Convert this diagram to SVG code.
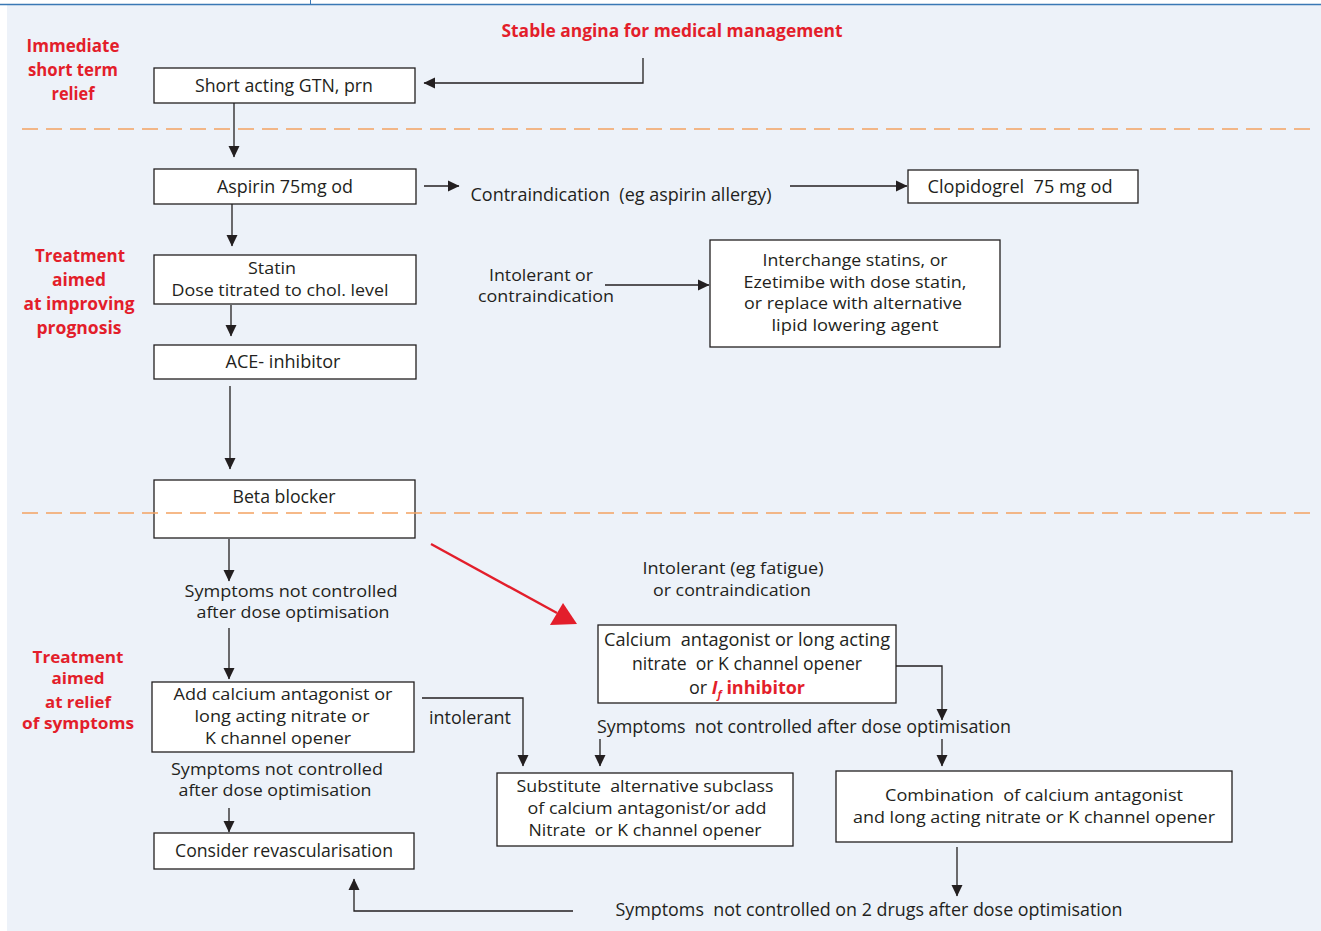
<svg xmlns="http://www.w3.org/2000/svg" width="1321" height="931" viewBox="0 0 1321 931">
<style>
.box{fill:#ffffff;stroke:#231f20;stroke-width:1.3}
.ln{fill:none;stroke:#231f20;stroke-width:1.3}
.t{font-family:"Open Sans","Noto Sans",sans-serif;font-size:18px;fill:#231f20;text-anchor:middle}
.r{font-family:"Open Sans","Noto Sans",sans-serif;font-size:18px;font-weight:bold;fill:#e31e2b;text-anchor:middle}
.s{font-size:16px}
.dash{stroke:#f4a261;stroke-width:1.6;stroke-dasharray:16 8;fill:none}
</style>
<defs>
<marker id="ah" markerUnits="userSpaceOnUse" markerWidth="12" markerHeight="12" refX="11" refY="6" orient="auto">
<path d="M0,0.5 L11.5,6 L0,11.5 Z" fill="#231f20"/>
</marker>
</defs>
<rect x="0" y="0" width="1321" height="931" fill="#ffffff"/>
<rect x="7" y="5" width="1314" height="926" fill="#edf2f9"/>
<line x1="0" y1="4.5" x2="1321" y2="4.5" stroke="#3a78b5" stroke-width="1.5"/>
<line x1="310.5" y1="0" x2="310.5" y2="4" stroke="#3a78b5" stroke-width="1"/>

<g id="dividers">
<line class="dash" x1="22" y1="129" x2="1310" y2="129"/>
</g>

<g id="section-labels">
<text class="r" x="73" y="52" textLength="93" lengthAdjust="spacingAndGlyphs">Immediate</text>
<text class="r" x="73" y="76" textLength="90" lengthAdjust="spacingAndGlyphs">short term</text>
<text class="r" x="73" y="100" textLength="43" lengthAdjust="spacingAndGlyphs">relief</text>
<text class="r" x="80" y="262" textLength="90" lengthAdjust="spacingAndGlyphs">Treatment</text>
<text class="r" x="79" y="286" textLength="54" lengthAdjust="spacingAndGlyphs">aimed</text>
<text class="r" x="79" y="310" textLength="111" lengthAdjust="spacingAndGlyphs">at improving</text>
<text class="r" x="79" y="334" textLength="85" lengthAdjust="spacingAndGlyphs">prognosis</text>
<text class="r s" x="78" y="663" textLength="91" lengthAdjust="spacingAndGlyphs">Treatment</text>
<text class="r s" x="78" y="684" textLength="53" lengthAdjust="spacingAndGlyphs">aimed</text>
<text class="r s" x="78" y="708" textLength="66" lengthAdjust="spacingAndGlyphs">at relief</text>
<text class="r s" x="78" y="729" textLength="112" lengthAdjust="spacingAndGlyphs">of symptoms</text>
</g>

<g id="start">
<text class="r" x="672" y="37" textLength="341" lengthAdjust="spacingAndGlyphs">Stable angina for medical management</text>
</g>

<g id="gtn">
<rect class="box" x="154" y="68" width="261" height="35"/>
<text class="t" x="284" y="92" textLength="178" lengthAdjust="spacingAndGlyphs">Short acting GTN, prn</text>
</g>

<g id="aspirin">
<rect class="box" x="154" y="169" width="262" height="35"/>
<text class="t" x="285" y="193" textLength="136" lengthAdjust="spacingAndGlyphs">Aspirin 75mg od</text>
</g>

<g id="contra-aspirin">
<text class="t" x="621" y="201" textLength="301" lengthAdjust="spacingAndGlyphs" xml:space="preserve">Contraindication  (eg aspirin allergy)</text>
</g>

<g id="clopidogrel">
<rect class="box" x="908" y="170" width="230" height="33"/>
<text class="t" x="1020" y="193" textLength="185" lengthAdjust="spacingAndGlyphs" xml:space="preserve">Clopidogrel  75 mg od</text>
</g>

<g id="statin">
<rect class="box" x="154" y="255" width="262" height="49"/>
<text class="t s" x="272" y="274" textLength="48" lengthAdjust="spacingAndGlyphs">Statin</text>
<text class="t s" x="280" y="296" textLength="217" lengthAdjust="spacingAndGlyphs">Dose titrated to chol. level</text>
</g>

<g id="intolerant-statin">
<text class="t s" x="541" y="281" textLength="104" lengthAdjust="spacingAndGlyphs">Intolerant or</text>
<text class="t s" x="546" y="302" textLength="136" lengthAdjust="spacingAndGlyphs">contraindication</text>
</g>

<g id="interchange">
<rect class="box" x="710" y="240" width="290" height="107"/>
<text class="t s" x="855" y="266" textLength="185" lengthAdjust="spacingAndGlyphs">Interchange statins, or</text>
<text class="t s" x="855" y="288" textLength="223" lengthAdjust="spacingAndGlyphs">Ezetimibe with dose statin,</text>
<text class="t s" x="853" y="309" textLength="218" lengthAdjust="spacingAndGlyphs">or replace with alternative</text>
<text class="t s" x="855" y="331" textLength="167" lengthAdjust="spacingAndGlyphs">lipid lowering agent</text>
</g>

<g id="ace">
<rect class="box" x="154" y="345" width="262" height="34"/>
<text class="t" x="283" y="368" textLength="115" lengthAdjust="spacingAndGlyphs">ACE- inhibitor</text>
</g>

<g id="beta">
<rect class="box" x="154" y="480" width="261" height="58"/>
<text class="t" x="284" y="503" textLength="103" lengthAdjust="spacingAndGlyphs">Beta blocker</text>
</g>

<g id="dividers2">
<line class="dash" x1="22" y1="513" x2="1310" y2="513"/>
</g>

<g id="symptoms1">
<text class="t s" x="291" y="597" textLength="213" lengthAdjust="spacingAndGlyphs">Symptoms not controlled</text>
<text class="t s" x="293" y="618" textLength="193" lengthAdjust="spacingAndGlyphs">after dose optimisation</text>
</g>

<g id="intolerant-beta">
<text class="t s" x="733" y="574" textLength="181" lengthAdjust="spacingAndGlyphs">Intolerant (eg fatigue)</text>
<text class="t s" x="732" y="596" textLength="158" lengthAdjust="spacingAndGlyphs">or contraindication</text>
</g>

<g id="calcium">
<rect class="box" x="598" y="625" width="298" height="78"/>
<text class="t" x="747" y="646" textLength="286" lengthAdjust="spacingAndGlyphs" xml:space="preserve">Calcium  antagonist or long acting</text>
<text class="t" x="747" y="670" textLength="230" lengthAdjust="spacingAndGlyphs" xml:space="preserve">nitrate  or K channel opener</text>
<text class="t" x="747" y="694"><tspan>or </tspan><tspan fill="#e31e2b" font-weight="bold" font-style="italic">I</tspan><tspan fill="#e31e2b" font-weight="bold" font-style="italic" font-size="11" dy="4">f</tspan><tspan fill="#e31e2b" font-weight="bold" dy="-4"> inhibitor</tspan></text>
</g>

<g id="add-calcium">
<rect class="box" x="152" y="682" width="262" height="70"/>
<text class="t s" x="283" y="700" textLength="219" lengthAdjust="spacingAndGlyphs">Add calcium antagonist or</text>
<text class="t s" x="282" y="722" textLength="175" lengthAdjust="spacingAndGlyphs">long acting nitrate or</text>
<text class="t s" x="278" y="744" textLength="146" lengthAdjust="spacingAndGlyphs">K channel opener</text>
</g>

<g id="intolerant-label">
<text class="t" x="470" y="724" textLength="82" lengthAdjust="spacingAndGlyphs">intolerant</text>
</g>

<g id="symptoms2">
<text class="t" x="804" y="733" textLength="414" lengthAdjust="spacingAndGlyphs" xml:space="preserve">Symptoms  not controlled after dose optimisation</text>
</g>

<g id="symptoms3">
<text class="t s" x="277" y="775" textLength="212" lengthAdjust="spacingAndGlyphs">Symptoms not controlled</text>
<text class="t s" x="275" y="796" textLength="193" lengthAdjust="spacingAndGlyphs">after dose optimisation</text>
</g>

<g id="substitute">
<rect class="box" x="497" y="773" width="296" height="73"/>
<text class="t s" x="645" y="792" textLength="257" lengthAdjust="spacingAndGlyphs" xml:space="preserve">Substitute  alternative subclass</text>
<text class="t s" x="647" y="814" textLength="239" lengthAdjust="spacingAndGlyphs">of calcium antagonist/or add</text>
<text class="t s" x="645" y="836" textLength="233" lengthAdjust="spacingAndGlyphs" xml:space="preserve">Nitrate  or K channel opener</text>
</g>

<g id="combination">
<rect class="box" x="836" y="771" width="396" height="71"/>
<text class="t s" x="1034" y="801" textLength="298" lengthAdjust="spacingAndGlyphs" xml:space="preserve">Combination  of calcium antagonist</text>
<text class="t s" x="1034" y="823" textLength="362" lengthAdjust="spacingAndGlyphs">and long acting nitrate or K channel opener</text>
</g>

<g id="revasc">
<rect class="box" x="154" y="833" width="260" height="36"/>
<text class="t" x="284" y="857" textLength="218" lengthAdjust="spacingAndGlyphs">Consider revascularisation</text>
</g>

<g id="symptoms4">
<text class="t" x="869" y="916" textLength="507" lengthAdjust="spacingAndGlyphs" xml:space="preserve">Symptoms  not controlled on 2 drugs after dose optimisation</text>
</g>

<g id="connectors">
<polyline class="ln" points="643,58 643,83 424,83" marker-end="url(#ah)"/>
<line class="ln" x1="234" y1="103" x2="234" y2="157" marker-end="url(#ah)"/>
<line class="ln" x1="424" y1="186" x2="459" y2="186" marker-end="url(#ah)"/>
<line class="ln" x1="790" y1="186" x2="907" y2="186" marker-end="url(#ah)"/>
<line class="ln" x1="232" y1="204" x2="232" y2="246" marker-end="url(#ah)"/>
<line class="ln" x1="605" y1="285" x2="709" y2="285" marker-end="url(#ah)"/>
<line class="ln" x1="231" y1="305" x2="231" y2="336" marker-end="url(#ah)"/>
<line class="ln" x1="230" y1="386" x2="230" y2="469" marker-end="url(#ah)"/>
<line class="ln" x1="229" y1="539" x2="229" y2="581" marker-end="url(#ah)"/>
<line class="ln" x1="229" y1="628" x2="229" y2="679" marker-end="url(#ah)"/>
<line x1="431" y1="544" x2="557" y2="613" stroke="#e31e2b" stroke-width="2.4"/>
<polygon points="577,624 550,625 563,603" fill="#e31e2b"/>
<polyline class="ln" points="896,666 942,666 942,720" marker-end="url(#ah)"/>
<polyline class="ln" points="422,698 523,698 523,766" marker-end="url(#ah)"/>
<line class="ln" x1="600" y1="739" x2="600" y2="766" marker-end="url(#ah)"/>
<line class="ln" x1="942" y1="739" x2="942" y2="766" marker-end="url(#ah)"/>
<line class="ln" x1="229" y1="808" x2="229" y2="832" marker-end="url(#ah)"/>
<line class="ln" x1="957" y1="847" x2="957" y2="896" marker-end="url(#ah)"/>
<polyline class="ln" points="573,911 354,911 354,879" marker-end="url(#ah)"/>
</g>
</svg>
